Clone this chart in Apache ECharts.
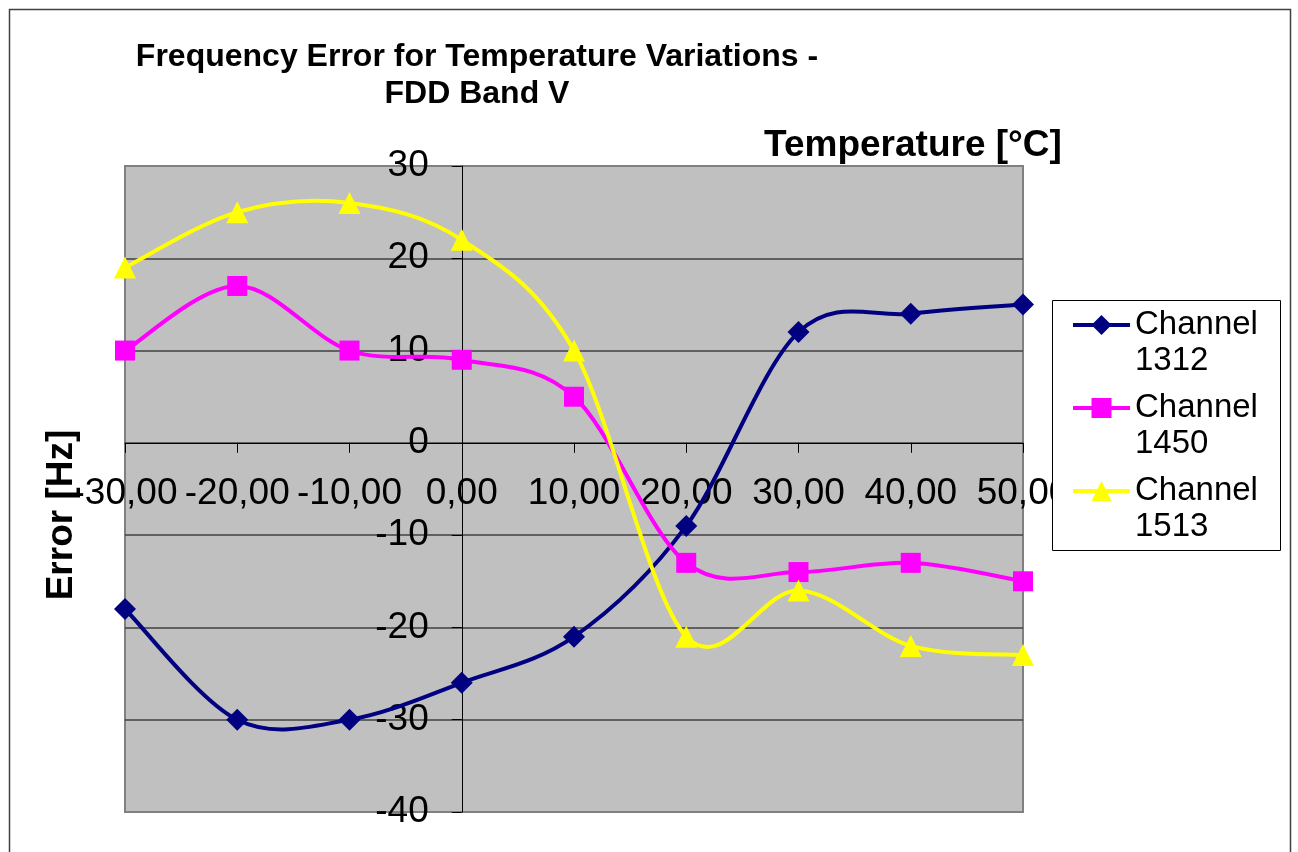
<!DOCTYPE html>
<html>
<head>
<meta charset="utf-8">
<script src="https://cdn.jsdelivr.net/npm/echarts@6/dist/echarts.min.js"></script>
<style>
html,body{margin:0;padding:0;background:#fff;}
#chart{width:1298px;height:852px;}
</style>
</head>
<body>
<div id="chart"></div>
<script>
var temperatures = [-30, -20, -10, 0, 10, 20, 30, 40, 50];
var channel1312 = [-18, -30, -30, -26, -21, -9, 12, 14, 15];
var channel1450 = [10, 17, 10, 9, 5, -13, -14, -13, -15];
var channel1513 = [19, 25, 26, 22, 10, -21, -16, -22, -23];
var seriesNames = ['Channel 1312', 'Channel 1450', 'Channel 1513'];
var seriesColors = ['#000080', '#FF00FF', '#FFFF00'];
var seriesSymbols = ['diamond', 'rect', 'triangle'];
var titleLines = ['Frequency Error for Temperature Variations -', 'FDD Band V'];
var xAxisTitle = 'Temperature [°C]';
var yAxisTitle = 'Error [Hz]';

function pairs(xs, ys) { return xs.map(function (x, i) { return [x, ys[i]]; }); }

var FONT = 'Arial, "Liberation Sans", sans-serif';
var chart = echarts.init(document.getElementById('chart'), null, {renderer: 'canvas'});

// Excel-like smoothed curve (Catmull-Rom style Bezier) drawn through the axis scales
function curveSeries(ys, color) {
  var xs = temperatures;
  return {
    type: 'custom', silent: true, z: 2,
    data: pairs(xs, ys),
    encode: { x: 0, y: 1 },
    renderItem: function (params, api) {
      var i = params.dataIndex, n = xs.length;
      if (i >= n - 1) return null;
      function P(k) { k = Math.max(0, Math.min(n - 1, k)); return api.coord([xs[k], ys[k]]); }
      var p0 = P(i - 1), p1 = P(i), p2 = P(i + 1), p3 = P(i + 2);
      return {
        type: 'bezierCurve',
        shape: {
          x1: p1[0], y1: p1[1], x2: p2[0], y2: p2[1],
          cpx1: p1[0] + (p2[0] - p0[0]) / 6, cpy1: p1[1] + (p2[1] - p0[1]) / 6,
          cpx2: p2[0] - (p3[0] - p1[0]) / 6, cpy2: p2[1] - (p3[1] - p1[1]) / 6
        },
        style: { stroke: color, lineWidth: 4, fill: null, lineCap: 'round' }
      };
    }
  };
}

var valueSets = [channel1312, channel1450, channel1513];
var symbolSizes = [22, 20, 22];
var series = [];
valueSets.forEach(function (ys, k) { series.push(curveSeries(ys, seriesColors[k])); });
valueSets.forEach(function (ys, k) {
  series.push({
    type: 'line', name: seriesNames[k], data: pairs(temperatures, ys), z: 3,
    color: seriesColors[k], symbol: seriesSymbols[k], symbolSize: symbolSizes[k],
    lineStyle: { width: 0, opacity: 0 }
  });
});

var option = {
  animation: false,
  backgroundColor: '#ffffff',
  title: [
    { text: titleLines.join('\n'), left: 472, top: 34, textAlign: 'center',
      textStyle: { fontFamily: FONT, fontWeight: 'bold', fontSize: 32, lineHeight: 37, color: '#000' } },
    { text: xAxisTitle, left: 908, top: 122, textAlign: 'center',
      textStyle: { fontFamily: FONT, fontWeight: 'bold', fontSize: 37, color: '#000' } }
  ],
  graphic: [
    { type: 'rect', shape: { x: 9.5, y: 9.5, width: 1281, height: 900 }, style: { fill: 'none', stroke: '#404040', lineWidth: 1.5 }, z: 1, silent: true },
    { type: 'rect', shape: { x: 1052.5, y: 300.5, width: 228, height: 250 }, style: { fill: '#ffffff', stroke: '#000', lineWidth: 1 }, z: 3, silent: true },
    { type: 'text', x: 62, y: 515, rotation: Math.PI / 2, style: { text: yAxisTitle, fontFamily: FONT, fontWeight: 'bold', fontSize: 37, fill: '#000', align: 'center', verticalAlign: 'middle' }, z: 3, silent: true }
  ],
  legend: {
    orient: 'vertical', left: 1071, top: 271, padding: 0, itemGap: -25,
    itemWidth: 57, itemHeight: 25, z: 4,
    data: seriesNames.map(function (n, k) {
      return { name: n, lineStyle: { color: seriesColors[k], width: 4, opacity: 1 } };
    }),
    formatter: function (n) { return '\n' + n.replace(' ', '\n'); },
    textStyle: { fontFamily: FONT, fontSize: 33, lineHeight: 36, color: '#000' }
  },
  grid: { left: 125, right: 275, top: 166, bottom: 40, containLabel: false, outerBoundsMode: 'none',
    show: true, backgroundColor: '#C0C0C0', borderColor: '#808080', borderWidth: 2 },
  xAxis: {
    type: 'value', min: -30, max: 50, interval: 10, position: 'bottom', offset: 0,
    axisLine: { onZero: false, lineStyle: { color: '#000', width: 1 } },
    axisTick: { show: true, length: 10, lineStyle: { color: '#000' } },
    splitLine: { show: false },
    axisLabel: { margin: 32, fontFamily: FONT, fontSize: 37, color: '#000', hideOverlap: false,
      formatter: function (v) { return v.toFixed(2).replace('.', ','); } }
  },
  yAxis: {
    type: 'value', min: -40, max: 30, interval: 10, position: 'left', offset: 0,
    axisLine: { show: true, onZero: false, lineStyle: { color: '#000', width: 1 } },
    axisTick: { show: true, length: 10, lineStyle: { color: '#000' } },
    splitLine: { show: true, showMinLine: false, showMaxLine: false, lineStyle: { color: '#404040', width: 1.5 } },
    axisLabel: { margin: 33, fontFamily: FONT, fontSize: 37, color: '#000' }
  },
  series: series
};
chart.setOption(option);

// Move the axes so they cross at zero, using the library's own scales
var zero = chart.convertToPixel({ gridIndex: 0 }, [0, 0]);
var corner = chart.convertToPixel({ gridIndex: 0 }, [-30, -40]);
chart.setOption({
  xAxis: { offset: zero[1] - corner[1] },
  yAxis: { offset: corner[0] - zero[0] }
});
</script>
</body>
</html>
